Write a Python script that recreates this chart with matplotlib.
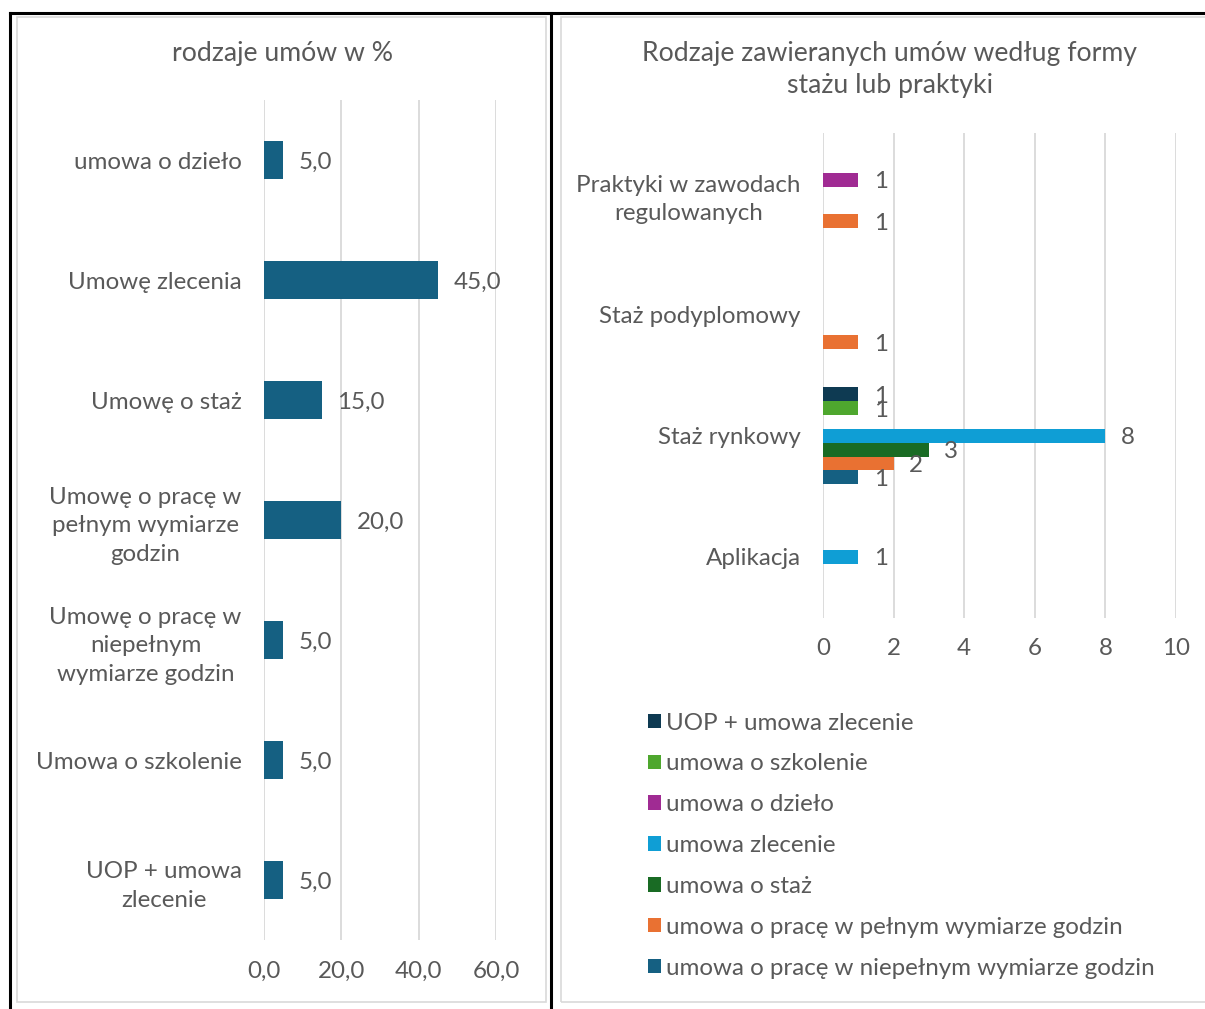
import numpy as np
import matplotlib
matplotlib.use("Agg")
import matplotlib.pyplot as plt
from matplotlib.lines import Line2D
from matplotlib.patches import Rectangle, Patch

plt.rcParams['font.family'] = ['Lato', 'DejaVu Sans']

# --- dane: wykres lewy ---
left_categories = ["umowa o dzieło", "Umowę zlecenia", "Umowę o staż",
                   "Umowę o pracę w\npełnym wymiarze\ngodzin",
                   "Umowę o pracę w\nniepełnym\nwymiarze godzin",
                   "Umowa o szkolenie", "UOP + umowa\nzlecenie"]
left_values = [5.0, 45.0, 15.0, 20.0, 5.0, 5.0, 5.0]
left_ticks = [0, 20, 40, 60]

# --- dane: wykres prawy ---
right_categories = ["Praktyki w zawodach\nregulowanych", "Staż podyplomowy",
                    "Staż rynkowy", "Aplikacja"]
series_names = ["UOP + umowa zlecenie", "umowa o szkolenie", "umowa o dzieło",
                "umowa zlecenie", "umowa o staż",
                "umowa o pracę w pełnym wymiarze godzin",
                "umowa o pracę w niepełnym wymiarze godzin"]
uop_zlecenie = [None, None, 1, None]
szkolenie = [None, None, 1, None]
dzielo = [1, None, None, None]
zlecenie = [None, None, 8, 1]
staz = [None, None, 3, None]
pelny = [1, 1, 2, None]
niepelny = [None, None, 1, None]
series_values = [uop_zlecenie, szkolenie, dzielo, zlecenie, staz, pelny, niepelny]
series_colors = ["#0E3A52", "#4EA72E", "#A02B93", "#0F9ED5", "#196B24",
                 "#E97132", "#156082"]
right_ticks = [0, 2, 4, 6, 8, 10]

W, H = 1205, 1009
TXT = "#595959"
GRID = "#D9D9D9"
FS = 17.4
FS_TITLE = 19.2

fig = plt.figure(figsize=(W / 100, H / 100), dpi=100)


def fx(x):
    return x / W


def fy(y):
    return 1 - y / H


# ramki: tabela (czarne) i obramowania wykresów (szare)
for (x0, y0, x1, y1) in [(10, 13, W, 13), (10, 13, 10, H), (551, 13, 551, H)]:
    fig.add_artist(Line2D([fx(x0), fx(x1)], [fy(y0), fy(y1)], color="black",
                          lw=2.2, transform=fig.transFigure))
for (x0, y0, x1, y1) in [(17, 17, 546, 1002), (561, 17, 1215, 1002)]:
    fig.add_artist(Rectangle((fx(x0), fy(y1)), fx(x1 - x0), (y1 - y0) / H,
                             fill=False, ec=GRID, lw=1.2, transform=fig.transFigure))

# --- lewy wykres ---
ax1 = fig.add_axes([fx(264), fy(940), fx(496 - 264), 840 / H])
y1 = np.arange(len(left_categories))
bars = ax1.barh(y1, left_values, height=0.31, color="#156082", zorder=3)
lbls = ax1.bar_label(bars, labels=[f"{v:.1f}".replace(".", ",") for v in left_values],
                     padding=11, fontsize=FS, color=TXT)
for t in lbls:
    t.set_va("center_baseline")
ax1.set_xlim(0, 60)
ax1.set_ylim(len(left_categories) - 0.5, -0.5)
ax1.set_xticks(left_ticks)
ax1.set_xticklabels([f"{t:.1f}".replace(".", ",") for t in left_ticks])
ax1.set_yticks(y1)
ax1.set_yticklabels(left_categories, multialignment="center", linespacing=1.45)
fig.text(fx(283), fy(53), "rodzaje umów w %", ha="center", va="center",
         fontsize=FS_TITLE, color=TXT)

# --- prawy wykres ---
ax2 = fig.add_axes([fx(823), fy(617.5), fx(1176 - 823), 484.5 / H])
y2 = np.arange(len(right_categories))
n = len(series_names)
h = 0.8 / n
for k, (vals, col) in enumerate(zip(series_values, series_colors)):
    idx = [i for i, v in enumerate(vals) if v is not None]
    vv = [vals[i] for i in idx]
    b = ax2.barh(y2[idx] + (k - (n - 1) / 2) * h, vv, height=h, color=col, zorder=3)
    lbls = ax2.bar_label(b, labels=[str(v) for v in vv], padding=11, fontsize=FS,
                         color=TXT)
    for t in lbls:
        t.set_va("center_baseline")
ax2.set_xlim(0, 10)
ax2.set_ylim(len(right_categories) - 0.5, -0.5)
ax2.set_xticks(right_ticks)
ax2.set_yticks(y2)
ax2.set_yticklabels(right_categories, multialignment="center", linespacing=1.45)
fig.text(fx(890), fy(69), "Rodzaje zawieranych umów według formy\nstażu lub praktyki",
         ha="center", va="center", fontsize=FS_TITLE, color=TXT, linespacing=1.35)

for ax in (ax1, ax2):
    for s in ax.spines.values():
        s.set_visible(False)
    ax.grid(axis="x", color=GRID, lw=1.3, zorder=0)
    ax.set_axisbelow(True)
    ax.tick_params(axis="both", length=0, labelsize=FS, colors=TXT)
    ax.tick_params(axis="x", pad=15)
    ax.tick_params(axis="y", pad=16)

handles = [Patch(facecolor=c, edgecolor="none") for c in series_colors]
fig.legend(handles, series_names, loc="upper left",
           bbox_to_anchor=(fx(638), fy(703)), frameon=False, fontsize=FS,
           labelcolor=TXT, handlelength=0.55, handleheight=0.55,
           handletextpad=0.2, labelspacing=0.82, borderaxespad=0)

fig.savefig("out.png", dpi=100)
